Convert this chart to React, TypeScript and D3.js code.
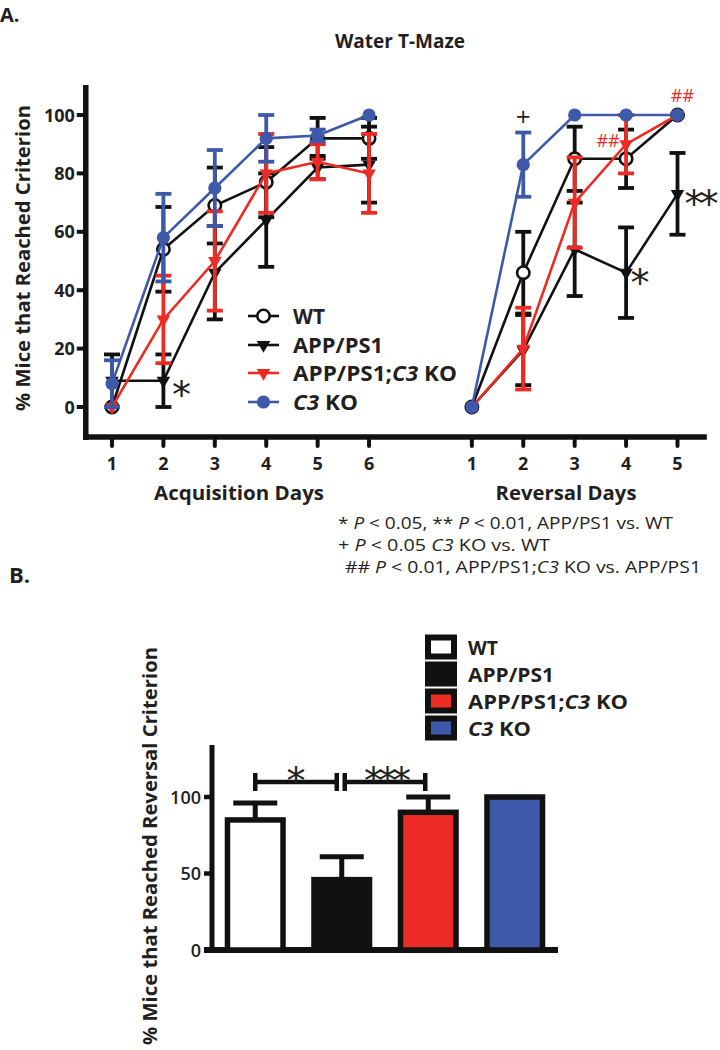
import React from "react";
import * as d3 from "d3";

// ---------- data ----------
const acqDays = [1, 2, 3, 4, 5, 6];
const revDays = [1, 2, 3, 4, 5];
const groupNames = ["WT", "APP/PS1", "APP/PS1;C3 KO", "C3 KO"];

const wtAcq = [0, 54, 69, 77, 92, 92];
const wtAcqErr = [0, 14.5, 13, 12, 7, 7];
const appAcq = [9, 9, 46, 64, 82, 83];
const appAcqErr = [9, 9, 16, 16, 4, 13];
const dkoAcq = [0, 30, 50, 80, 84, 80];
const dkoAcqErr = [0, 15, 17, 13.5, 6, 13.5];
const c3Acq = [8, 58, 75, 92, 93, 100];
const c3AcqErr = [8, 15, 13, 8, 2, 0];

const wtRev = [0, 46, 85, 85, 100];
const wtRevErr = [0, 14, 11, 10, 0];
const appRev = [0, 19.5, 54, 46, 73];
const appRevErr = [0, 12, 16, 15.5, 14];
const dkoRev = [0, 20, 70, 90, 100];
const dkoRevErr = [0, 14, 15.5, 10, 0];
const c3Rev = [0, 83, 100, 100, 100];
const c3RevErr = [0, 11, 0, 0, 0];

const yTicksA = [0, 20, 40, 60, 80, 100];

const barValues = [85, 46, 90, 100];
const barErrs = [11, 15, 10, 0];
const yTicksB = [0, 50, 100];

// ---------- style ----------
const BLACK = "#111";
const RED = "#ec2b24";
const BLUE = "#3e59a9";
const TXT = "#231f20";
const FONT = "'Open Sans', sans-serif";

const seriesDefs = [
  { name: groupNames[0], color: BLACK, marker: "open", acq: wtAcq, acqErr: wtAcqErr, rev: wtRev, revErr: wtRevErr },
  { name: groupNames[1], color: BLACK, marker: "tri", acq: appAcq, acqErr: appAcqErr, rev: appRev, revErr: appRevErr },
  { name: groupNames[2], color: RED, marker: "tri", acq: dkoAcq, acqErr: dkoAcqErr, rev: dkoRev, revErr: dkoRevErr },
  { name: groupNames[3], color: BLUE, marker: "dot", acq: c3Acq, acqErr: c3AcqErr, rev: c3Rev, revErr: c3RevErr },
];

const triPath = d3.symbol().type(d3.symbolTriangle).size(80)() as string;

function Marker({ kind, color, x, y }: { kind: string; color: string; x: number; y: number }) {
  if (kind === "open")
    return <circle cx={x} cy={y} r={6.2} fill="white" stroke={color} strokeWidth={2.6} />;
  if (kind === "dot") return <circle cx={x} cy={y} r={6.6} fill={color} />;
  return <path d={triPath} transform={`translate(${x},${y}) rotate(180)`} fill={color} />;
}

function GroupLabel({ name, x, y, size, len, weight = 700 }: any) {
  const parts = name.includes("C3") ? name.split("C3") : [name];
  return (
    <text x={x} y={y} fontFamily={FONT} fontWeight={weight} fontSize={size} fill={TXT}
      textLength={len} lengthAdjust="spacingAndGlyphs">
      {parts.length === 1 ? name : (
        <>
          {parts[0]}
          <tspan fontStyle="italic">C3</tspan>
          {parts[1]}
        </>
      )}
    </text>
  );
}

export default function App() {
  // ----- Panel A scales -----
  const xA = d3.scaleLinear().domain([1, 12]).range([112, 677.5]);
  const yA = d3.scaleLinear().domain([0, 100]).range([407, 115]);
  const revPos = (d: number) => d + 7;
  const line = d3.line<[number, number]>().x((d) => xA(d[0])).y((d) => yA(d[1]));

  const axisLeftA = xA(0.49);
  const axisRightA = xA(12.57);
  const axisBottomA = yA(-10.3);
  const axisTopA = yA(110.3);

  // ----- Panel B scales -----
  const xB = d3.scaleBand<string>().domain(groupNames).range([212, 558]).paddingInner(0.3).paddingOuter(0.15);
  const yB = d3.scaleLinear().domain([0, 100]).range([950, 797]);
  const bw = xB.bandwidth();
  const cx = (g: string) => (xB(g) as number) + bw / 2;
  const barFills = ["white", BLACK, RED, BLUE];

  const bracketY = 782;
  const br1 = [cx(groupNames[0]), cx(groupNames[1]) - 5];
  const br2 = [cx(groupNames[1]) + 3, cx(groupNames[2]) - 3];

  const legendRowsA = [316, 345, 373, 402];
  const legendLenA = [32, 90, 164, 65];
  const legendRowsB = [647, 674, 701, 728];
  const legendLenB = [30, 86, 160, 63];

  return (
    <svg width={720} height={1050} style={{ position: "absolute", left: 0, top: 0, background: "white" }}>
      <rect width={720} height={1050} fill="white" />
      {/* Panel labels & title */}
      <text x={0} y={22} fontFamily={FONT} fontWeight={700} fontSize={20} fill={TXT}>A.</text>
      <text x={335} y={48} fontFamily={FONT} fontWeight={700} fontSize={19} fill={TXT}>Water T-Maze</text>
      <text x={9} y={583} fontFamily={FONT} fontWeight={700} fontSize={22} fill={TXT}>B.</text>

      {/* ===== Panel A axes ===== */}
      <line x1={axisLeftA} x2={axisLeftA} y1={axisTopA} y2={axisBottomA + 3} stroke={BLACK} strokeWidth={5.5} />
      <line x1={axisLeftA - 2.5} x2={axisRightA} y1={axisBottomA} y2={axisBottomA} stroke={BLACK} strokeWidth={5.5} />
      {yTicksA.map((t) => (
        <g key={"yt" + t}>
          <line x1={axisLeftA - 9} x2={axisLeftA} y1={yA(t)} y2={yA(t)} stroke={BLACK} strokeWidth={4} />
          <text x={axisLeftA - 11} y={yA(t) + 6.5} textAnchor="end" fontFamily={FONT} fontWeight={700} fontSize={18} fill={TXT}>{t}</text>
        </g>
      ))}
      {acqDays.map((d) => (
        <g key={"xa" + d}>
          <line x1={xA(d)} x2={xA(d)} y1={axisBottomA} y2={axisBottomA + 9} stroke={BLACK} strokeWidth={4} strokeLinecap="round" />
          <text x={xA(d)} y={470} textAnchor="middle" fontFamily={FONT} fontWeight={700} fontSize={18} fill={TXT}>{d}</text>
        </g>
      ))}
      {revDays.map((d) => (
        <g key={"xr" + d}>
          <line x1={xA(revPos(d))} x2={xA(revPos(d))} y1={axisBottomA} y2={axisBottomA + 9} stroke={BLACK} strokeWidth={4} strokeLinecap="round" />
          <text x={xA(revPos(d))} y={470} textAnchor="middle" fontFamily={FONT} fontWeight={700} fontSize={18} fill={TXT}>{d}</text>
        </g>
      ))}
      <text x={239} y={500} textAnchor="middle" fontFamily={FONT} fontWeight={700} fontSize={20} fill={TXT} textLength={170} lengthAdjust="spacingAndGlyphs">Acquisition Days</text>
      <text x={566} y={500} textAnchor="middle" fontFamily={FONT} fontWeight={700} fontSize={20} fill={TXT} textLength={141} lengthAdjust="spacingAndGlyphs">Reversal Days</text>
      <text transform="translate(30,258) rotate(-90)" textAnchor="middle" fontFamily={FONT} fontWeight={700} fontSize={19} fill={TXT} textLength={306} lengthAdjust="spacingAndGlyphs">% Mice that Reached Criterion</text>

      {/* ===== Panel A series ===== */}
      {seriesDefs.map((s) => {
        const acqPts: [number, number][] = acqDays.map((d, i) => [d, s.acq[i]]);
        const revPts: [number, number][] = revDays.map((d, i) => [revPos(d), s.rev[i]]);
        const errs = [
          ...acqDays.map((d, i) => ({ p: d, v: s.acq[i], e: s.acqErr[i] })),
          ...revDays.map((d, i) => ({ p: revPos(d), v: s.rev[i], e: s.revErr[i] })),
        ].filter((o) => o.e > 0);
        return (
          <g key={s.name}>
            <path d={line(acqPts) as string} fill="none" stroke={s.color} strokeWidth={2.6} />
            <path d={line(revPts) as string} fill="none" stroke={s.color} strokeWidth={2.6} />
            {errs.map((o, j) => {
              const x = xA(o.p);
              const y1 = yA(Math.max(0, o.v - o.e));
              const y2 = yA(o.v + o.e);
              return (
                <g key={j} stroke={s.color} strokeWidth={3.8}>
                  <line x1={x} x2={x} y1={y1} y2={y2} />
                  <line x1={x - 8} x2={x + 8} y1={y1} y2={y1} />
                  <line x1={x - 8} x2={x + 8} y1={y2} y2={y2} />
                </g>
              );
            })}
            {[...acqPts, ...revPts].map((p, j) => (
              <Marker key={j} kind={s.marker} color={s.color} x={xA(p[0])} y={yA(p[1])} />
            ))}
          </g>
        );
      })}

      {/* Panel A significance marks */}
      <text x={xA(2) + 18} y={yA(9) + 27} textAnchor="middle" fontFamily="'DejaVu Sans'" fontSize={38} fill={TXT}>*</text>
      <text x={xA(revPos(4)) + 14} y={yA(46) + 23} textAnchor="middle" fontFamily="'DejaVu Sans'" fontSize={38} fill={TXT}>*</text>
      <text x={xA(revPos(5)) + 7} y={yA(73) + 23} textAnchor="start" fontFamily="'DejaVu Sans'" fontSize={38} fill={TXT} letterSpacing={-4}>**</text>
      <text x={xA(revPos(2))} y={126} textAnchor="middle" fontFamily={FONT} fontSize={26} fill={TXT}>+</text>
      <text x={xA(revPos(4)) - 18} y={147} textAnchor="middle" fontFamily={FONT} fontSize={18} fill={RED}>##</text>
      <text x={xA(revPos(5)) + 5} y={102} textAnchor="middle" fontFamily={FONT} fontSize={18} fill={RED}>##</text>

      {/* Panel A legend */}
      {seriesDefs.map((s, i) => (
        <g key={"lg" + i}>
          <line x1={248} x2={279} y1={legendRowsA[i]} y2={legendRowsA[i]} stroke={s.color} strokeWidth={2.6} />
          <Marker kind={s.marker} color={s.color} x={263.5} y={legendRowsA[i]} />
          <GroupLabel name={s.name} x={293} y={legendRowsA[i] + 7.5} size={21} len={legendLenA[i]} />
        </g>
      ))}

      {/* Footnotes */}
      <text x={338} y={529} fontFamily={FONT} fontSize={16} fill={TXT} textLength={335} lengthAdjust="spacingAndGlyphs">
        * <tspan fontStyle="italic">P</tspan> {"<  "}0.05, ** <tspan fontStyle="italic">P</tspan> {"<"} 0.01, APP/PS1 vs. WT
      </text>
      <text x={338} y={551} fontFamily={FONT} fontSize={16} fill={TXT} textLength={212} lengthAdjust="spacingAndGlyphs">
        + <tspan fontStyle="italic">P</tspan> {"<"} 0.05  <tspan fontStyle="italic">C3</tspan> KO vs. WT
      </text>
      <text x={345} y={573} fontFamily={FONT} fontSize={16} fill={TXT} textLength={356} lengthAdjust="spacingAndGlyphs">
        ## <tspan fontStyle="italic">P</tspan> {"<"} 0.01, APP/PS1;<tspan fontStyle="italic">C3</tspan> KO vs. APP/PS1
      </text>

      {/* ===== Panel B ===== */}
      <line x1={212} x2={212} y1={745} y2={952} stroke={BLACK} strokeWidth={5} />
      <line x1={204} x2={558} y1={950} y2={950} stroke={BLACK} strokeWidth={6} />
      {yTicksB.map((t) => (
        <g key={"ybt" + t}>
          <line x1={204} x2={212} y1={yB(t)} y2={yB(t)} stroke={BLACK} strokeWidth={4.5} />
          <text x={201} y={yB(t) + 6.5} textAnchor="end" fontFamily={FONT} fontWeight={600} fontSize={18} fill={TXT}>{t}</text>
        </g>
      ))}
      <text transform="translate(157,846) rotate(-90)" textAnchor="middle" fontFamily={FONT} fontWeight={700} fontSize={19} fill={TXT} textLength={398} lengthAdjust="spacingAndGlyphs">% Mice that Reached Reversal Criterion</text>

      {groupNames.map((g, i) => {
        const x0 = xB(g) as number;
        const yTop = yB(barValues[i]);
        const yErr = yB(barValues[i] + barErrs[i]);
        return (
          <g key={"bar" + g}>
            {barErrs[i] > 0 && (
              <g stroke={BLACK} strokeWidth={5}>
                <line x1={cx(g)} x2={cx(g)} y1={yTop} y2={yErr} />
                <line x1={cx(g) - 22} x2={cx(g) + 22} y1={yErr} y2={yErr} />
              </g>
            )}
            <rect x={x0 + 2.5} y={yTop} width={bw - 5} height={950 - yTop} fill={barFills[i]} stroke={BLACK} strokeWidth={5.5} />
          </g>
        );
      })}

      {/* brackets */}
      {[br1, br2].map((b, i) => (
        <g key={"br" + i} stroke={BLACK} strokeWidth={4.5}>
          <line x1={b[0]} x2={b[1]} y1={bracketY} y2={bracketY} />
          <line x1={b[0]} x2={b[0]} y1={bracketY - 9} y2={bracketY + 9} />
          <line x1={b[1]} x2={b[1]} y1={bracketY - 9} y2={bracketY + 9} />
        </g>
      ))}
      <text x={(br1[0] + br1[1]) / 2} y={794} textAnchor="middle" fontFamily="'DejaVu Sans'" fontSize={38} fill={TXT}>*</text>
      <text x={(br2[0] + br2[1]) / 2} y={794} textAnchor="middle" fontFamily="'DejaVu Sans'" fontSize={38} fill={TXT} letterSpacing={-5}>***</text>

      {/* Panel B legend */}
      {groupNames.map((g, i) => (
        <g key={"lgb" + g}>
          <rect x={428} y={legendRowsB[i] - 9.5} width={26} height={19} fill={barFills[i]} stroke={BLACK} strokeWidth={6} />
          <GroupLabel name={g} x={468} y={legendRowsB[i] + 7.5} size={20} len={legendLenB[i]} />
        </g>
      ))}
    </svg>
  );
}
